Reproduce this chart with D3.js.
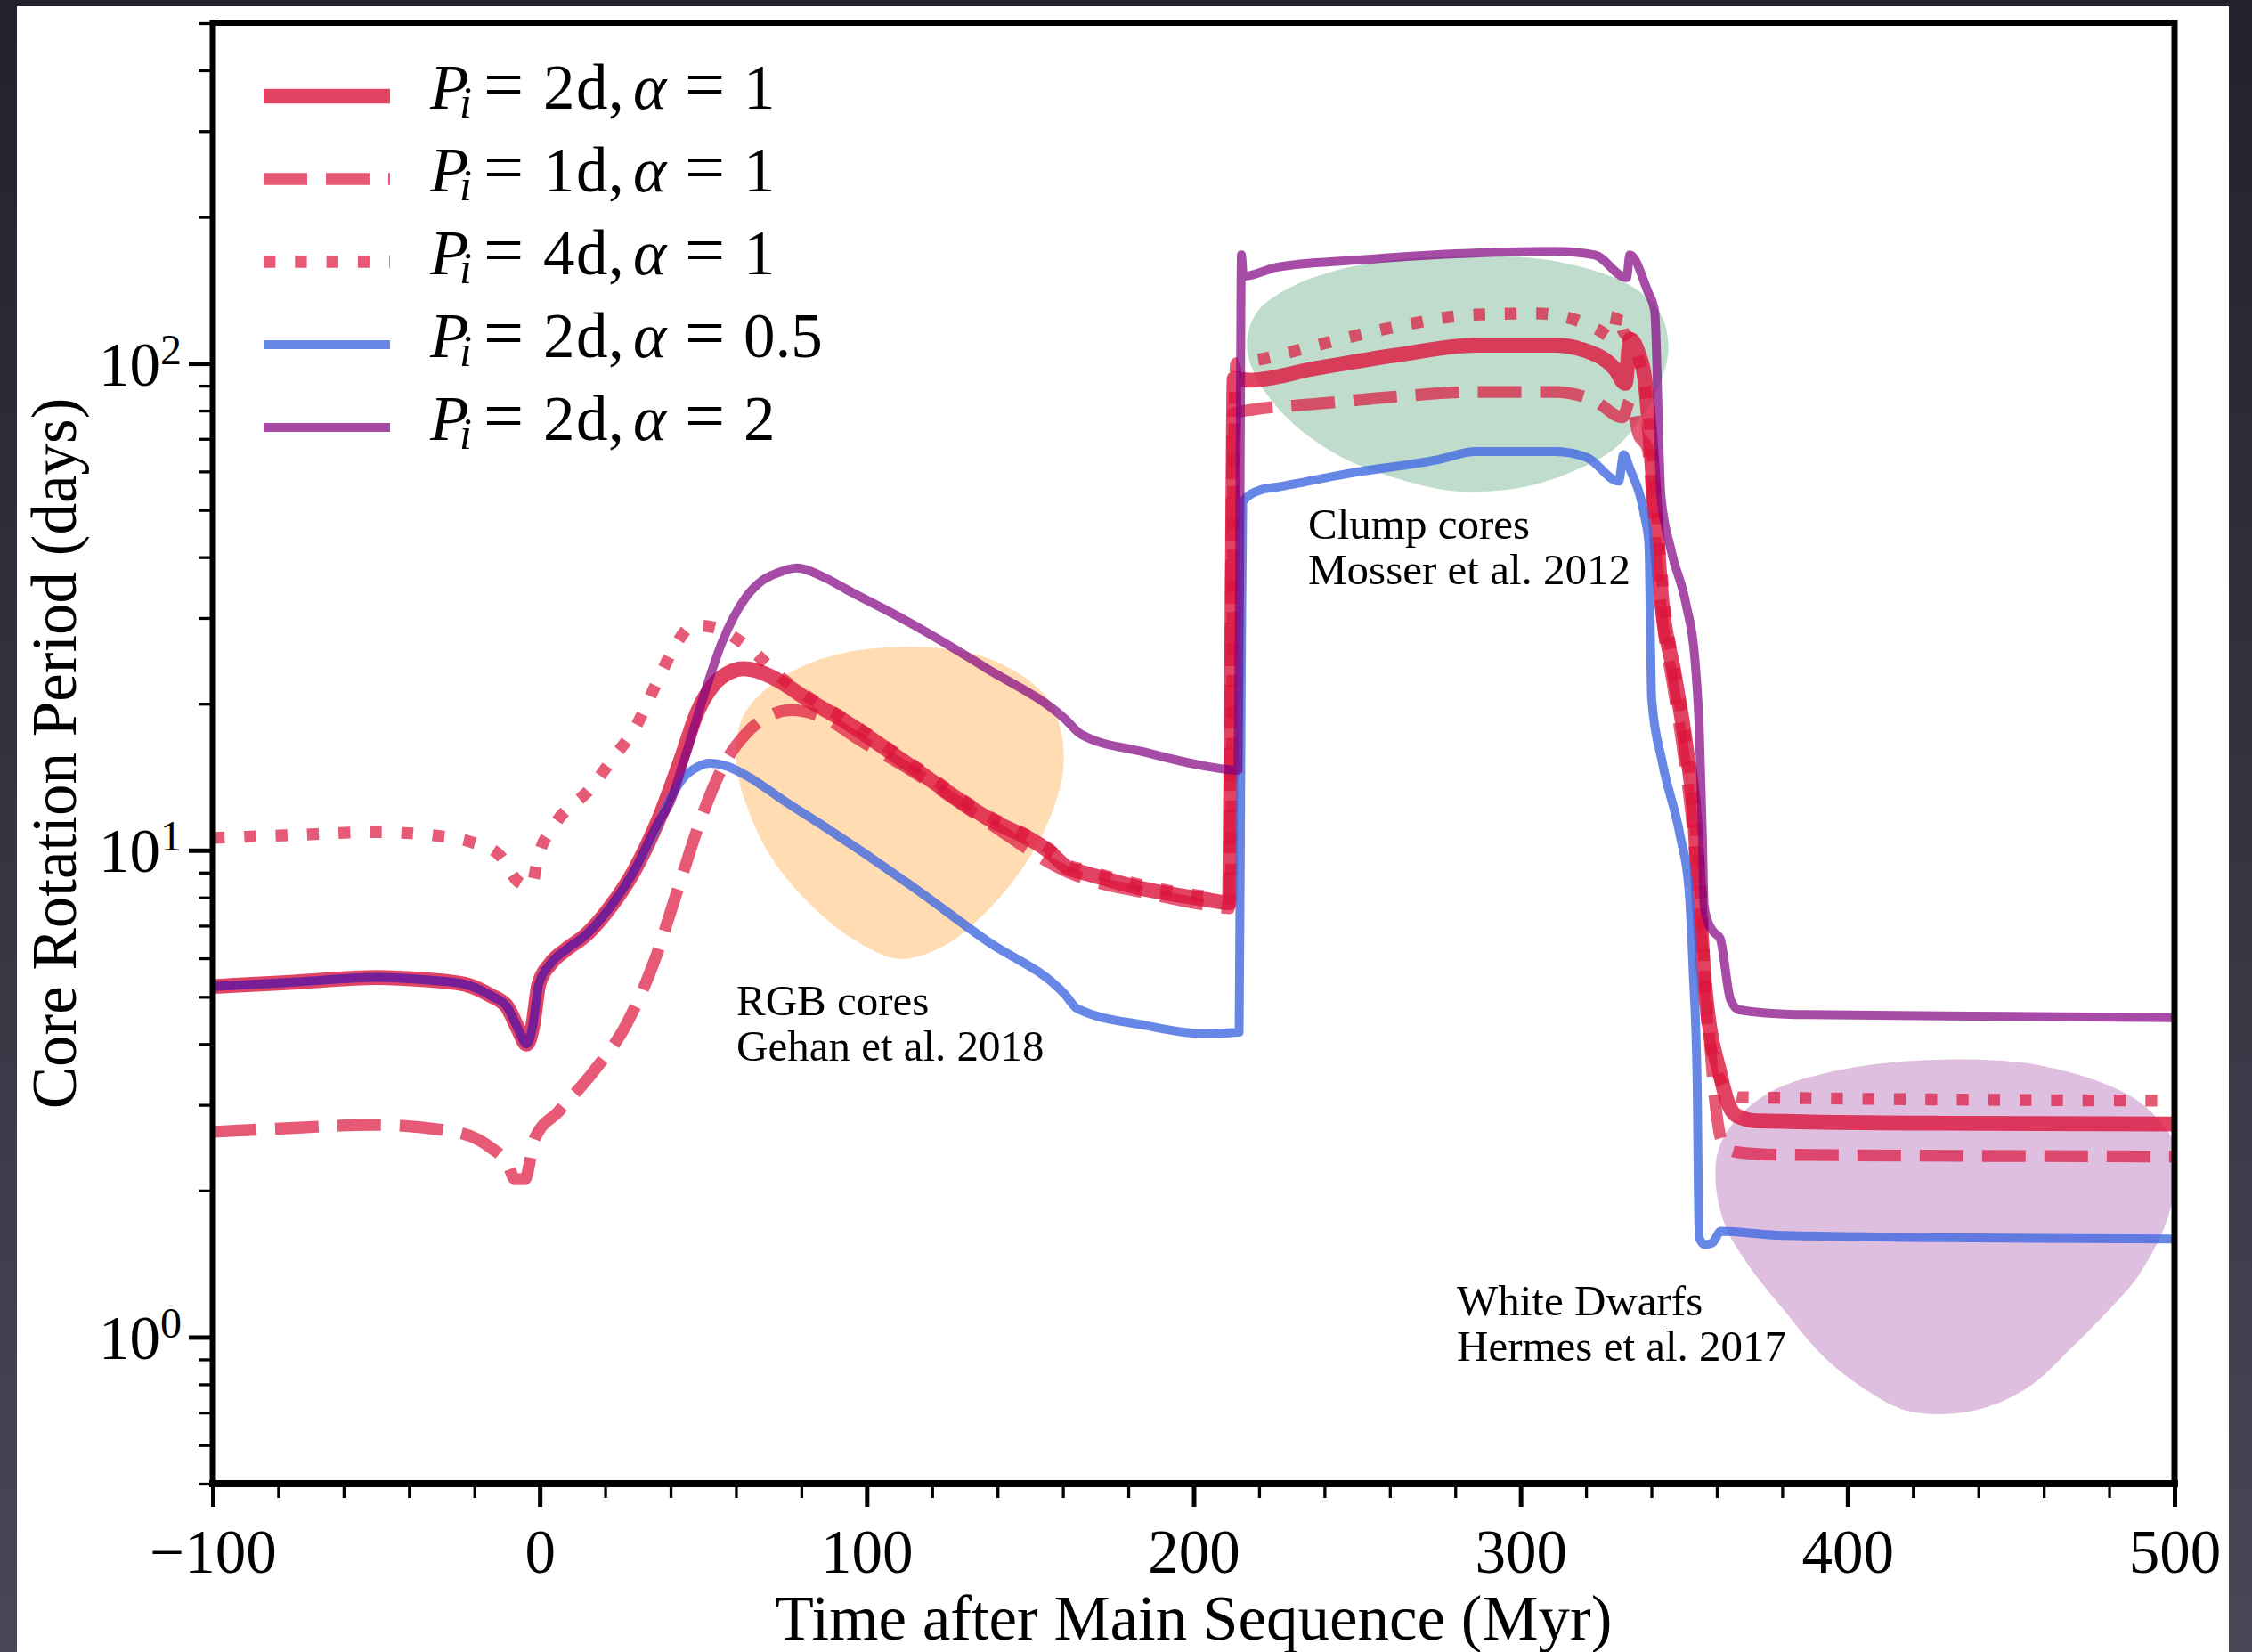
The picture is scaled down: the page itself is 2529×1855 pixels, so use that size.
<!DOCTYPE html>
<html><head><meta charset="utf-8">
<script src="https://cdn.jsdelivr.net/npm/d3@7"></script>
<style>html,body{margin:0;padding:0;background:#2a2836;} svg{display:block}</style>
</head><body>
<svg id="chart" width="2529" height="1855"></svg>
<script>
// ---------------- DATA ----------------
// [time after MS (Myr), core rotation period (days)]
const seriesP2a1 = [[-100,5.25],[-75,5.36],[-50,5.48],[-35,5.42],[-23,5.31],[-15,5.03],[-10,4.77],[-6.5,4.28],[-4,4.0],[-2.1,4.38],[-0.3,5.3],[3.3,5.85],[8,6.25],[14.3,6.72],[21.6,7.65],[28.9,9.09],[36.2,11.5],[43.5,15.6],[48.3,19.3],[53.2,21.9],[58,23.2],[62.3,23.6],[66,23.4],[72.6,22.4],[82.4,20.3],[93.9,18.3],[112.1,15.1],[136.4,11.7],[155.9,9.93],[161.9,9.16],[165.6,9.02],[185.1,8.32],[203.3,7.93],[211,7.8],[211.8,35],[212.4,93],[217,92.4],[237.6,97.8],[261.9,104],[286.2,109],[310.5,109],[320.3,106],[328.8,97.5],[332,91],[333.5,112],[336,105],[338,92.7],[339.7,69],[341.5,45.6],[343.3,32],[346.9,23.2],[350.6,16.3],[353.3,11.4],[354.7,7.74],[356,5.6],[357.8,4.34],[360.6,3.57],[363.3,3.04],[366,2.85],[372.6,2.78],[429,2.75],[500,2.74]];
const seriesP1a1 = [[-100,2.64],[-75,2.69],[-51,2.73],[-26,2.64],[-15,2.45],[-10,2.28],[-7.5,2.11],[-4.6,2.11],[-1.5,2.56],[5.8,2.91],[16.7,3.53],[26.4,4.38],[35,5.91],[42.3,8.35],[49.5,11.7],[56.8,15.2],[62.9,17.3],[70.2,18.9],[76.9,19.4],[87.8,18.6],[97.5,16.9],[112.1,14.8],[136.4,11.5],[161.9,9.0],[165.6,8.8],[185.1,8.18],[209.4,7.62],[210.8,7.6],[211.5,40],[212.1,79],[218.2,80.4],[237.6,82.6],[261.9,85.5],[286.2,87.4],[310.5,87.4],[322.7,83.8],[331.2,77.5],[333.5,84],[336,71.6],[338.8,67],[341,45],[343,31],[346.5,22],[350,15.5],[353,10.5],[355,7],[357,4.8],[359.6,3.0],[361.3,2.55],[363,2.45],[366,2.4],[378,2.37],[500,2.35]];
const seriesP4a1 = [[-100,10.6],[-75,10.75],[-50,10.9],[-31,10.7],[-21,10.4],[-12.5,9.8],[-6.4,8.6],[-2.7,8.43],[-0.3,9.8],[4.6,11.3],[15.5,13.4],[22.8,15.6],[28.9,17.7],[36.2,22.4],[41,26],[47.1,29],[53.2,28.7],[64.1,26],[73.9,22.6],[82.4,20.6],[93.9,18.5],[112.1,15.3],[136.4,11.85],[155.9,10.05],[161.9,9.3],[165.6,9.15],[185.1,8.45],[203.3,8.05],[211.3,7.95],[212.2,60],[213,100],[220.6,102],[237.6,109],[261.9,119],[286.2,126],[304.5,126.7],[316.6,123],[324,117],[328,113],[330,127.6],[331.2,117],[333.5,112],[336,103],[338,90],[340,68],[342,46],[344,32],[347,23.5],[350.6,16.5],[353.3,11.5],[355.5,7.5],[356.8,4.62],[360.2,3.51],[363,3.2],[367,3.11],[500,3.06]];
const seriesP2a05 = [[-100,5.25],[-75,5.36],[-50,5.48],[-35,5.42],[-23,5.31],[-15,5.03],[-10,4.77],[-6.5,4.28],[-4,4.0],[-2.1,4.38],[-0.3,5.3],[3.3,5.85],[8,6.25],[14.3,6.72],[21.6,7.65],[28.9,9.09],[36.2,11.3],[40,12.8],[44,14.1],[48,14.8],[52,15.1],[57,14.9],[63.5,14.2],[75,12.6],[87.8,11.1],[112.1,8.6],[136.4,6.54],[160.7,5.05],[164.4,4.73],[185.1,4.37],[203.3,4.2],[213.9,4.23],[214.5,20],[215,52],[220.6,55],[225.4,55.7],[249.8,59.8],[274.1,63.3],[286.2,65.9],[310.5,65.9],[320.3,64.1],[330,57.3],[331.5,65],[333.3,61],[337.9,48.6],[339.2,42.8],[340.1,20.4],[343.3,15.2],[348.8,10.7],[351.5,8.3],[352.8,5.6],[354,3.3],[354.6,1.6],[356.3,1.55],[358.5,1.56],[361.3,1.65],[378.3,1.62],[429,1.6],[500,1.59]];
const seriesP2a2 = [[-100,5.25],[-75,5.36],[-50,5.48],[-35,5.42],[-23,5.31],[-15,5.03],[-10,4.77],[-6.5,4.28],[-4,4.0],[-2.1,4.38],[-0.3,5.3],[3.3,5.85],[8,6.25],[14.3,6.72],[21.6,7.65],[28.9,9.09],[36.2,11.4],[39.8,12.5],[44,15.2],[49.5,20.1],[55.6,26.6],[62.9,33],[68,35.8],[72.6,37.1],[78.7,38.0],[87.2,36.3],[95,34.0],[112.1,29.6],[136.4,23.7],[160.7,18.6],[165.6,17.3],[185.1,15.9],[203.3,14.9],[213.6,14.6],[214.2,60],[214.6,167],[215.2,151],[225.4,157.6],[249.8,163],[280.2,168],[310.5,170],[322.7,167],[332.4,150],[333.4,167],[338.8,141],[341,128],[342.9,53.6],[346,41.4],[350.6,32],[353.3,24.7],[354.7,17.3],[355.6,10.7],[356.1,7.74],[356.9,7.26],[359,6.8],[361,6.59],[364.2,4.93],[366.9,4.7],[384,4.6],[429,4.57],[500,4.53]];

// observational regions (outline points)
const blobRGB = [[109.7,26.15],[93.9,25.5],[79.3,23.7],[68.4,21.2],[62.3,18.9],[60.1,16.6],[60.4,14.6],[62.3,12.9],[68.4,10.3],[75.6,8.74],[85.4,7.44],[96.3,6.54],[109.7,5.98],[123.1,6.33],[134,7.2],[143.7,8.46],[152.2,10.3],[157.7,12.5],[160.1,14.6],[159.5,17.5],[155.9,20.2],[148.6,22.6],[136.4,24.9],[124.3,25.9]];
const blobClump = [[281.4,165.6],[261.9,163.3],[243.7,155.4],[229.1,142.8],[219.4,127.6],[216.3,110.9],[218.2,96.4],[225.4,81.5],[235.2,70.8],[247.3,63.2],[261.9,58.1],[276.5,55],[286.2,54.5],[300.8,55.7],[315.4,59.8],[328.8,66.9],[337.3,78.1],[343.4,93.8],[345.2,108],[343.4,124],[337.3,139],[327.6,151],[313,161],[298.4,165.6]];
const blobWD = [[431.3,3.72],[412.1,3.66],[395.2,3.51],[378.3,3.24],[367,2.85],[360.8,2.46],[359.6,2.10],[362.5,1.70],[369.2,1.42],[380.5,1.137],[393,0.907],[406.5,0.772],[417.8,0.707],[430.2,0.695],[442.6,0.718],[456.2,0.797],[468.6,0.952],[479.9,1.137],[488.9,1.336],[496.8,1.674],[500,2.0],[501,2.39],[496.8,2.71],[487.8,3.09],[474.2,3.40],[457.3,3.63],[446,3.70]];

const legendPi = ["2","1","4","2","2"];
const legendAlpha = ["1","1","1","0.5","2"];

const xMajorTicks = [-100,0,100,200,300,400,500];
const xMinorTicks = [-80,-60,-40,-20,20,40,60,80,120,140,160,180,220,240,260,280,320,340,360,380,420,440,460,480];
const yMajorTicks = [1,10,100];
const yMajorExp = ["0","1","2"];
const yMinorTicks = [0.5,0.6,0.7,0.8,0.9,2,3,4,5,6,7,8,9,20,30,40,50,60,70,80,90,200,300,400,500];

const regionLabels = [
  {lines:["RGB cores","Gehan et al. 2018"], x:827, y:1140},
  {lines:["Clump cores","Mosser et al. 2012"], x:1469, y:605},
  {lines:["White Dwarfs","Hermes et al. 2017"], x:1636, y:1477}
];

// ---------------- DRAW ----------------
const W = 2529, H = 1855;
const L = 239, R = 2442, T = 26, B = 1666;
const FONT = "'Liberation Serif','Times New Roman',serif";
const svg = d3.select("#chart");

const defs = svg.append("defs");
const grad = defs.append("linearGradient").attr("id","bg").attr("x1",0).attr("y1",0).attr("x2",0).attr("y2",1);
grad.append("stop").attr("offset","0%").attr("stop-color","#23212d");
grad.append("stop").attr("offset","100%").attr("stop-color","#4a4656");
defs.append("clipPath").attr("id","plotclip").append("rect")
  .attr("x",L).attr("y",T).attr("width",R-L).attr("height",B-T);

svg.append("rect").attr("width",W).attr("height",H).attr("fill","url(#bg)");
svg.append("rect").attr("x",19).attr("y",7).attr("width",2484).attr("height",H).attr("fill","#fff");

const x = d3.scaleLinear().domain([-100,500]).range([L,R]);
const y = d3.scaleLog().domain([0.5,500]).range([B,T]);

const plot = svg.append("g").attr("clip-path","url(#plotclip)");

// blobs
const blobLine = d3.line().x(d=>x(d[0])).y(d=>y(d[1])).curve(d3.curveCatmullRomClosed.alpha(0.5));
[[blobRGB,"darkorange",0.3],[blobClump,"seagreen",0.3],[blobWD,"purple",0.25]].forEach(([pts,c,o])=>{
  plot.append("path").attr("d",blobLine(pts)).attr("fill",c).attr("fill-opacity",o).attr("stroke","none");
});

// series
const styles = [
  {data:seriesP2a1, color:"crimson", op:0.8, w:16.7, dash:null, cap:"round"},
  {data:seriesP1a1, color:"crimson", op:0.7, w:13.3, dash:"49 21", cap:"butt"},
  {data:seriesP4a1, color:"crimson", op:0.7, w:13.3, dash:"13.3 22", cap:"butt"},
  {data:seriesP2a05, color:"royalblue", op:0.8, w:10, dash:null, cap:"round"},
  {data:seriesP2a2, color:"purple", op:0.7, w:10, dash:null, cap:"round"}
];
const line = d3.line().x(d=>x(d[0])).y(d=>y(d[1])).curve(d3.curveMonotoneX);
styles.forEach(s=>{
  plot.append("path").attr("d",line(s.data)).attr("fill","none")
    .attr("stroke",s.color).attr("stroke-opacity",s.op).attr("stroke-width",s.w)
    .attr("stroke-linejoin","round").attr("stroke-linecap",s.cap)
    .attr("stroke-dasharray",s.dash);
});

// region labels
regionLabels.forEach(r=>{
  const t = svg.append("text").attr("font-family",FONT).attr("font-size",49).attr("fill","#000");
  r.lines.forEach((s,i)=>{
    t.append("tspan").attr("x",r.x).attr("y",r.y+i*51).text(s);
  });
});

// legend
const legX0 = 296, legX1 = 438, legTextX = 483;
styles.forEach((s,i)=>{
  const cy = 108 + i*93;
  svg.append("line").attr("x1",legX0).attr("x2",legX1).attr("y1",cy).attr("y2",cy)
    .attr("stroke",s.color).attr("stroke-opacity",s.op).attr("stroke-width",s.w)
    .attr("stroke-linecap","butt").attr("stroke-dasharray",s.dash);
  const base = cy + 14;
  const t = svg.append("text").attr("font-family",FONT).attr("font-size",71).attr("fill","#000");
  const pieces = [
    {s:"P", dx:0, it:true},
    {s:"i", dx:33, it:true, sub:true},
    {s:"=", dx:60, eq:true},
    {s:legendPi[i], dx:127},
    {s:"d", dx:164},
    {s:",", dx:200},
    {s:"\u03b1", dx:228, it:true},
    {s:"=", dx:286, eq:true},
    {s:legendAlpha[i], dx:352}
  ];
  pieces.forEach(p=>{
    t.append("tspan").attr("x",legTextX+p.dx).attr("y",base+(p.sub?10:0))
      .attr("font-style",p.it?"italic":"normal")
      .attr("font-size",p.sub?50:(p.eq?80:71)).text(p.s);
  });
});

// axes
const fmtX = d => d<0 ? "\u2212"+Math.abs(d) : String(d);
const gxMinor = svg.append("g").attr("transform",`translate(0,${B})`)
  .call(d3.axisBottom(x).tickValues(xMinorTicks).tickSize(16).tickFormat(""));
const gxMajor = svg.append("g").attr("transform",`translate(0,${B})`)
  .call(d3.axisBottom(x).tickValues(xMajorTicks).tickSize(26).tickFormat(fmtX));
const gyMinor = svg.append("g").attr("transform",`translate(${L},0)`)
  .call(d3.axisLeft(y).tickValues(yMinorTicks).tickSize(16).tickFormat(""));
const gyMajor = svg.append("g").attr("transform",`translate(${L},0)`)
  .call(d3.axisLeft(y).tickValues(yMajorTicks).tickSize(27).tickFormat(""));

[gxMinor,gxMajor,gyMinor,gyMajor].forEach(g=>g.select(".domain").remove());
[gxMinor,gyMinor].forEach(g=>g.selectAll("line").attr("stroke","#000").attr("stroke-width",3.3));
[gxMajor,gyMajor].forEach(g=>g.selectAll("line").attr("stroke","#000").attr("stroke-width",5));
gxMinor.selectAll("text").remove();
gyMinor.selectAll("text").remove();
gxMajor.attr("font-family",FONT).attr("font-size",69);
gxMajor.selectAll("text").attr("y",100).attr("dy",null).attr("fill","#000");
gyMajor.selectAll("text").remove();
gyMajor.selectAll(".tick").each(function(d,i){
  const t = d3.select(this).append("text").attr("x",-35).attr("y",24)
    .attr("text-anchor","end").attr("font-family",FONT).attr("font-size",69).attr("fill","#000");
  t.append("tspan").text("10");
  t.append("tspan").attr("dy",-24).attr("font-size",48).text(yMajorExp[i]);
});

// spines
const sp = svg.append("g").attr("stroke","#000").attr("stroke-linecap","square");
sp.append("line").attr("x1",L).attr("x2",R).attr("y1",T).attr("y2",T).attr("stroke-width",6);
sp.append("line").attr("x1",L).attr("x2",R).attr("y1",B).attr("y2",B).attr("stroke-width",8);
sp.append("line").attr("x1",L).attr("x2",L).attr("y1",T).attr("y2",B).attr("stroke-width",7);
sp.append("line").attr("x1",R).attr("x2",R).attr("y1",T).attr("y2",B).attr("stroke-width",7);

// axis titles
svg.append("text").attr("x",(L+R)/2).attr("y",1841).attr("text-anchor","middle")
  .attr("font-family",FONT).attr("font-size",71).attr("fill","#000")
  .text("Time after Main Sequence (Myr)");
svg.append("text").attr("transform",`translate(85,${(T+B)/2}) rotate(-90)`).attr("text-anchor","middle")
  .attr("font-family",FONT).attr("font-size",71).attr("fill","#000")
  .text("Core Rotation Period (days)");
</script>
</body></html>
